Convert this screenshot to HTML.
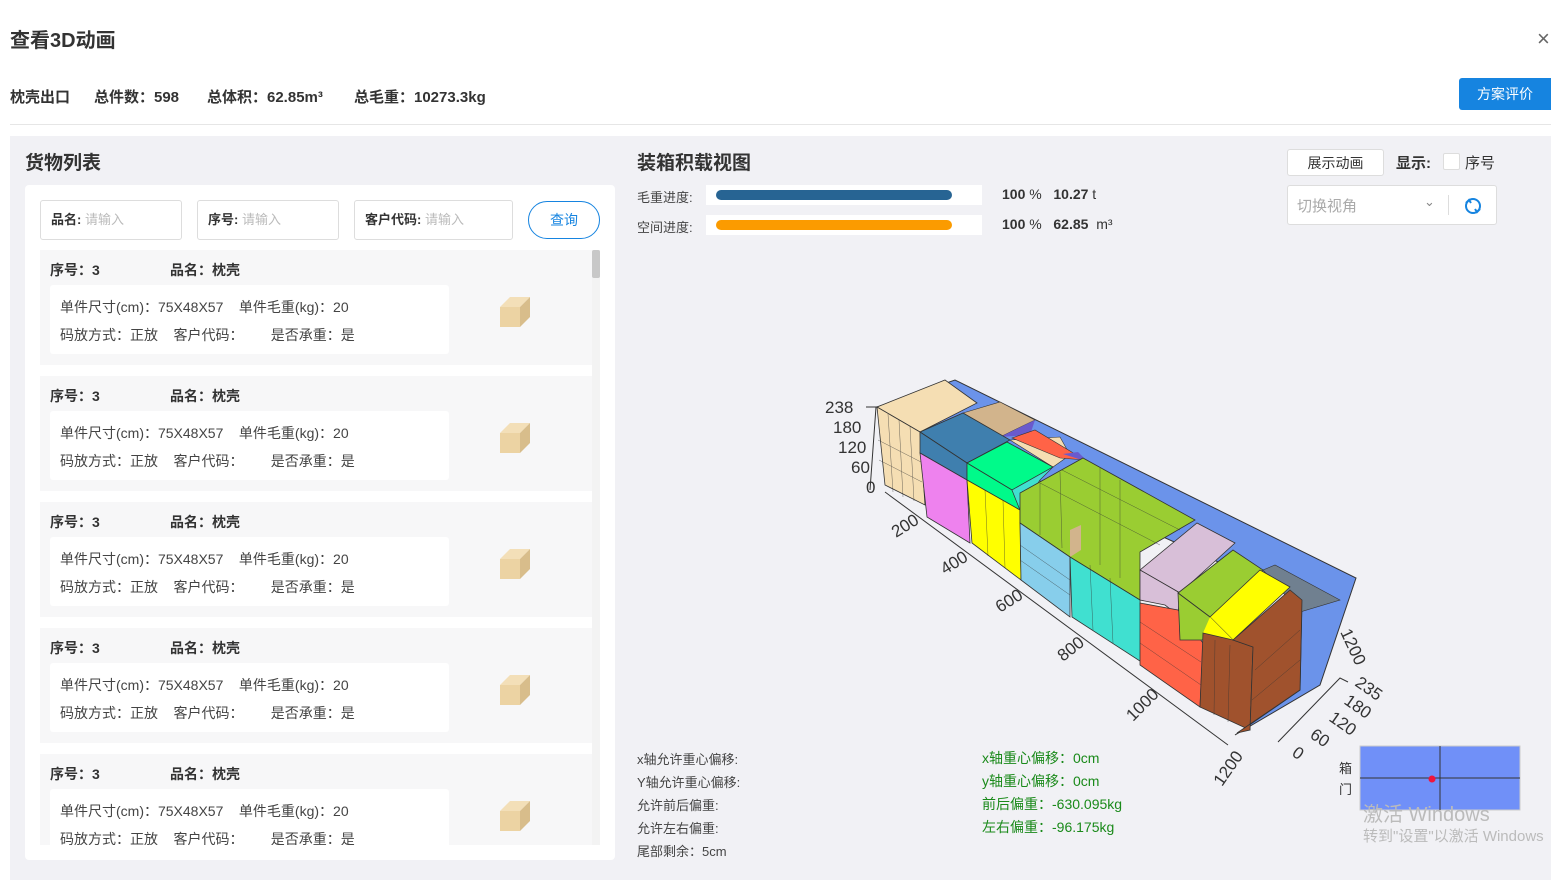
<!DOCTYPE html>
<html><head><meta charset="utf-8"><style>
*{box-sizing:border-box;margin:0;padding:0}
body{width:1551px;height:880px;background:#fff;font-family:"Liberation Sans","Noto Sans CJK SC",sans-serif;color:#333;position:relative;overflow:hidden}
.a{position:absolute;white-space:nowrap}
.item{position:absolute;left:40px;width:552px;height:115px;background:#f7f7f8}
.item .h{position:absolute;top:10px;font-size:14px;font-weight:bold;color:#333}
.inner{position:absolute;left:10px;top:35px;width:399px;height:69px;background:#fff;border-radius:3px;font-size:14px;color:#444}
.inner span{position:absolute}
.lbl{font-size:13px;color:#444}
.g{color:#1a8a1a;font-size:14px}
.hd{position:absolute;top:86px;font-size:15px;font-weight:bold;color:#333;white-space:nowrap}
</style></head><body>
<div class="a" style="left:10px;top:24px;font-size:20px;font-weight:bold;color:#333">查看3D动画</div>
<div class="a" style="left:1537px;top:26px;font-size:22px;color:#666">×</div>
<div class="hd" style="left:10px">枕壳出口</div>
<div class="hd" style="left:94px">总件数：598</div>
<div class="hd" style="left:207px">总体积：62.85m³</div>
<div class="hd" style="left:354px">总毛重：10273.3kg</div>
<div class="a" style="left:1459px;top:78px;width:92px;height:32px;background:#1684e0;color:#fff;font-size:14px;line-height:32px;text-align:center;border-radius:3px 0 0 3px">方案评价</div>
<div class="a" style="left:10px;top:124px;width:1541px;height:1px;background:#e6e6e6"></div>
<div class="a" style="left:10px;top:136px;width:1541px;height:744px;background:#f1f1f5"></div>
<div class="a" style="left:25px;top:148px;font-size:19px;font-weight:bold;color:#333">货物列表</div>
<div class="a" style="left:25px;top:185px;width:590px;height:675px;background:#fff;border-radius:4px;overflow:hidden">
</div>
<div class="a" style="left:40px;top:200px;width:142px;height:40px;border:1px solid #ddd;border-radius:3px;font-size:13px;line-height:38px;padding-left:10px"><b>品名:</b> <span style="color:#bbb">请输入</span></div>
<div class="a" style="left:197px;top:200px;width:142px;height:40px;border:1px solid #ddd;border-radius:3px;font-size:13px;line-height:38px;padding-left:10px"><b>序号:</b> <span style="color:#bbb">请输入</span></div>
<div class="a" style="left:354px;top:200px;width:159px;height:40px;border:1px solid #ddd;border-radius:3px;font-size:13px;line-height:38px;padding-left:10px"><b>客户代码:</b> <span style="color:#bbb">请输入</span></div>
<div class="a" style="left:528px;top:201px;width:72px;height:38px;border:1px solid #1684e0;border-radius:19px;color:#1684e0;font-size:14px;line-height:36px;text-align:center">查询</div>
<div class="a" style="left:25px;top:248px;width:575px;height:597px;overflow:hidden">
<div class="item" style="left:15px;top:2px"><span class="h" style="left:10px">序号：3</span><span class="h" style="left:130px">品名：枕壳</span><div class="inner"><span style="left:10px;top:12px">单件尺寸(cm)：75X48X57&nbsp;&nbsp;&nbsp;&nbsp;单件毛重(kg)：20</span><span style="left:10px;top:40px">码放方式：正放&nbsp;&nbsp;&nbsp;&nbsp;客户代码：&nbsp;&nbsp;&nbsp;&nbsp;&nbsp;&nbsp;&nbsp;是否承重：是</span></div><svg class="a" style="left:460px;top:45px" width="30" height="32"><polygon points="0,12 20,12 20,32 0,32" fill="#ecd3a3"/><polygon points="0,12 10,2 30,2 20,12" fill="#f3dfb8"/><polygon points="20,12 30,2 30,22 20,32" fill="#d8bd8b"/></svg></div>
<div class="item" style="left:15px;top:128px"><span class="h" style="left:10px">序号：3</span><span class="h" style="left:130px">品名：枕壳</span><div class="inner"><span style="left:10px;top:12px">单件尺寸(cm)：75X48X57&nbsp;&nbsp;&nbsp;&nbsp;单件毛重(kg)：20</span><span style="left:10px;top:40px">码放方式：正放&nbsp;&nbsp;&nbsp;&nbsp;客户代码：&nbsp;&nbsp;&nbsp;&nbsp;&nbsp;&nbsp;&nbsp;是否承重：是</span></div><svg class="a" style="left:460px;top:45px" width="30" height="32"><polygon points="0,12 20,12 20,32 0,32" fill="#ecd3a3"/><polygon points="0,12 10,2 30,2 20,12" fill="#f3dfb8"/><polygon points="20,12 30,2 30,22 20,32" fill="#d8bd8b"/></svg></div>
<div class="item" style="left:15px;top:254px"><span class="h" style="left:10px">序号：3</span><span class="h" style="left:130px">品名：枕壳</span><div class="inner"><span style="left:10px;top:12px">单件尺寸(cm)：75X48X57&nbsp;&nbsp;&nbsp;&nbsp;单件毛重(kg)：20</span><span style="left:10px;top:40px">码放方式：正放&nbsp;&nbsp;&nbsp;&nbsp;客户代码：&nbsp;&nbsp;&nbsp;&nbsp;&nbsp;&nbsp;&nbsp;是否承重：是</span></div><svg class="a" style="left:460px;top:45px" width="30" height="32"><polygon points="0,12 20,12 20,32 0,32" fill="#ecd3a3"/><polygon points="0,12 10,2 30,2 20,12" fill="#f3dfb8"/><polygon points="20,12 30,2 30,22 20,32" fill="#d8bd8b"/></svg></div>
<div class="item" style="left:15px;top:380px"><span class="h" style="left:10px">序号：3</span><span class="h" style="left:130px">品名：枕壳</span><div class="inner"><span style="left:10px;top:12px">单件尺寸(cm)：75X48X57&nbsp;&nbsp;&nbsp;&nbsp;单件毛重(kg)：20</span><span style="left:10px;top:40px">码放方式：正放&nbsp;&nbsp;&nbsp;&nbsp;客户代码：&nbsp;&nbsp;&nbsp;&nbsp;&nbsp;&nbsp;&nbsp;是否承重：是</span></div><svg class="a" style="left:460px;top:45px" width="30" height="32"><polygon points="0,12 20,12 20,32 0,32" fill="#ecd3a3"/><polygon points="0,12 10,2 30,2 20,12" fill="#f3dfb8"/><polygon points="20,12 30,2 30,22 20,32" fill="#d8bd8b"/></svg></div>
<div class="item" style="left:15px;top:506px"><span class="h" style="left:10px">序号：3</span><span class="h" style="left:130px">品名：枕壳</span><div class="inner"><span style="left:10px;top:12px">单件尺寸(cm)：75X48X57&nbsp;&nbsp;&nbsp;&nbsp;单件毛重(kg)：20</span><span style="left:10px;top:40px">码放方式：正放&nbsp;&nbsp;&nbsp;&nbsp;客户代码：&nbsp;&nbsp;&nbsp;&nbsp;&nbsp;&nbsp;&nbsp;是否承重：是</span></div><svg class="a" style="left:460px;top:45px" width="30" height="32"><polygon points="0,12 20,12 20,32 0,32" fill="#ecd3a3"/><polygon points="0,12 10,2 30,2 20,12" fill="#f3dfb8"/><polygon points="20,12 30,2 30,22 20,32" fill="#d8bd8b"/></svg></div>
<div class="a" style="left:567px;top:2px;width:8px;height:595px;background:#f3f3f3"></div>
<div class="a" style="left:567px;top:2px;width:8px;height:28px;background:#c8c8c8;border-radius:2px"></div>
</div>

<div class="a" style="left:637px;top:148px;font-size:19px;font-weight:bold;color:#333">装箱积载视图</div>
<div class="a lbl" style="left:637px;top:187px">毛重进度:</div>
<div class="a" style="left:706px;top:185px;width:276px;height:20px;background:#fff"></div>
<div class="a" style="left:716px;top:190px;width:236px;height:10px;background:#276493;border-radius:5px"></div>
<div class="a lbl" style="left:637px;top:217px">空间进度:</div>
<div class="a" style="left:706px;top:215px;width:276px;height:20px;background:#fff"></div>
<div class="a" style="left:716px;top:220px;width:236px;height:10px;background:#fb9b00;border-radius:5px"></div>
<div class="a" style="left:1002px;top:186px;font-size:14px"><b>100</b> %&nbsp;&nbsp;&nbsp;<b>10.27</b> t</div>
<div class="a" style="left:1002px;top:216px;font-size:14px"><b>100</b> %&nbsp;&nbsp;&nbsp;<b>62.85</b>&nbsp; m³</div>
<div class="a" style="left:1287px;top:149px;width:97px;height:27px;background:#fff;border:1px solid #ddd;border-radius:3px;font-size:14px;line-height:26px;text-align:center">展示动画</div>
<div class="a" style="left:1396px;top:152px;font-size:15px;font-weight:bold">显示:</div>
<div class="a" style="left:1443px;top:153px;width:17px;height:17px;background:#fff;border:1px solid #ddd;border-radius:2px"></div>
<div class="a" style="left:1465px;top:152px;font-size:15px">序号</div>
<div class="a" style="left:1287px;top:185px;width:210px;height:40px;background:#fff;border:1px solid #ddd;border-radius:3px"></div>
<div class="a" style="left:1297px;top:195px;font-size:15px;color:#aaa">切换视角</div>
<div class="a" style="left:1424px;top:194px;font-size:13px;color:#888">⌄</div>
<div class="a" style="left:1448px;top:195px;width:1px;height:20px;background:#ddd"></div>
<svg class="a" style="left:1462px;top:195px" width="22" height="22"><circle cx="11" cy="11" r="7" fill="none" stroke="#1684e0" stroke-width="2"/><path d="M4 8 l3 -3 l2 3 M18 14 l-3 3 l-2 -3" stroke="#1684e0" stroke-width="2" fill="none"/></svg>

<svg class="a" style="left:0;top:0" width="1551" height="880">
<g font-family="Liberation Sans,sans-serif" font-size="17" fill="#333">
<polygon points="877,407 955,380 1356,578 1320,685 1235,735 1300,690 1302,600" fill="#6b93ea" stroke="#333" stroke-width="1"/>
<polygon points="963,413 1000,402 1035,420 1000,437" fill="#d2b48c" stroke="#333" stroke-width=".6"/>
<polygon points="1000,437 1035,420 1030,435" fill="#6a5acd"/>
<polygon points="1010,440 1060,437 1070,455 1053,467" fill="#f5deb3" stroke="#333" stroke-width=".6"/>
<polygon points="1012,438 1035,430 1085,460 1060,458" fill="#ff6347" stroke="#333" stroke-width=".6"/>
<polygon points="1063,454 1078,452 1088,462" fill="#6a5acd"/>
<polygon points="877,407 945,380 977,403 920,432" fill="#f5deb3" stroke="#333" stroke-width=".8"/>
<polygon points="877,407 920,432 925,505 885,485" fill="#f5deb3" stroke="#333" stroke-width=".8"/>
<polygon points="920,432 963,413 1010,440 967,463" fill="#3f7fae" stroke="#333" stroke-width=".8"/>
<polygon points="920,432 967,463 967,480 920,453" fill="#3f7fae" stroke="#333" stroke-width=".8"/>
<polygon points="920,453 967,480 970,543 927,517" fill="#ee82ee" stroke="#333" stroke-width=".8"/>
<polygon points="967,463 1007,442 1053,467 1012,490" fill="#00fa8a" stroke="#333" stroke-width=".8"/>
<polygon points="967,463 1012,490 1020,510 967,480" fill="#00fa8a" stroke="#333" stroke-width=".8"/>
<polygon points="1012,490 1053,467 1040,480 1020,510" fill="#40e0d0" stroke="#333" stroke-width=".6"/>
<polygon points="967,480 1020,510 1021,580 972,543" fill="#ffff00" stroke="#333" stroke-width=".8"/>
<polygon points="1020,493 1083,458 1195,520 1140,552 1140,600 1070,557 1020,523" fill="#9acd32" stroke="#333" stroke-width=".8"/>
<polygon points="1070,530 1081,525 1081,550 1070,557" fill="#d2b48c"/>
<polygon points="1020,523 1070,557 1070,617 1021,580" fill="#87ceeb" stroke="#333" stroke-width=".8"/>
<polygon points="1070,557 1140,600 1143,663 1072,617" fill="#40e0d0" stroke="#333" stroke-width=".8"/>
<polygon points="1140,570 1197,523 1235,543 1180,593" fill="#d8bfd8" stroke="#333" stroke-width=".8"/>
<polygon points="1140,570 1180,593 1178,615 1165,605 1140,600" fill="#d8bfd8" stroke="#333" stroke-width=".8"/>
<polygon points="1140,603 1178,610 1203,643 1200,707 1140,665" fill="#ff6347" stroke="#333" stroke-width=".8"/>
<polygon points="1178,593 1233,550 1263,570 1210,617" fill="#9acd32" stroke="#333" stroke-width=".8"/>
<polygon points="1178,593 1210,617 1213,640 1180,640" fill="#9acd32" stroke="#333" stroke-width=".8"/>
<polygon points="1263,570 1275,565 1340,600 1300,612" fill="#708090" stroke="#333" stroke-width=".6"/>
<polygon points="1210,617 1260,570 1290,587 1233,640" fill="#ffff00" stroke="#333" stroke-width=".8"/>
<polygon points="1210,617 1233,640 1233,643 1203,633" fill="#ffff00"/>
<polygon points="1203,633 1233,640 1253,647 1250,730 1200,707" fill="#a0522d" stroke="#333" stroke-width=".8"/>
<polygon points="1233,640 1290,590 1302,600 1300,690 1237,733 1250,730 1253,647" fill="#a0522d" stroke="#333" stroke-width=".8"/>
<g stroke="#333" stroke-width=".5" opacity=".7">
<line x1="888" y1="414" x2="893" y2="492"/><line x1="899" y1="420" x2="903" y2="497"/><line x1="910" y1="426" x2="914" y2="501"/>
<line x1="878" y1="440" x2="921" y2="462"/><line x1="879" y1="460" x2="922" y2="482"/>
<line x1="1140" y1="622" x2="1201" y2="662"/><line x1="1140" y1="643" x2="1201" y2="685"/>
<line x1="1090" y1="565" x2="1093" y2="630"/><line x1="1110" y1="578" x2="1113" y2="643"/>
<line x1="1020" y1="545" x2="1070" y2="580"/><line x1="1020" y1="560" x2="1070" y2="595"/>
<line x1="985" y1="490" x2="988" y2="556"/><line x1="1003" y1="500" x2="1005" y2="568"/>
<line x1="1215" y1="640" x2="1214" y2="715"/><line x1="1230" y1="645" x2="1228" y2="722"/>
<line x1="1255" y1="670" x2="1300" y2="630"/><line x1="1252" y1="700" x2="1300" y2="660"/>
<line x1="1040" y1="483" x2="1040" y2="535"/><line x1="1060" y1="472" x2="1062" y2="548"/>
<line x1="1100" y1="468" x2="1100" y2="565"/><line x1="1120" y1="480" x2="1120" y2="578"/>
<line x1="1040" y1="483" x2="1160" y2="545"/><line x1="1062" y1="470" x2="1180" y2="530"/>
</g>
<polyline points="866,407 876,407 870,490" fill="none" stroke="#333" stroke-width="1"/>
<line x1="885" y1="492" x2="1228" y2="745" stroke="#333"/>
<polyline points="1278,742 1340,678 1348,682" fill="none" stroke="#333"/>
<text x="825" y="413">238</text><text x="833" y="433">180</text><text x="838" y="453">120</text><text x="851" y="473">60</text><text x="866" y="493">0</text>
<text transform="translate(896,538) rotate(-32)">200</text>
<text transform="translate(945,575) rotate(-32)">400</text>
<text transform="translate(1000,613) rotate(-32)">600</text>
<text transform="translate(1063,662) rotate(-38)">800</text>
<text transform="translate(1133,722) rotate(-45)">1000</text>
<text transform="translate(1222,787) rotate(-55)">1200</text>
<text transform="translate(1340,632) rotate(65)">1200</text>
<text transform="translate(1354,685) rotate(35)">235</text>
<text transform="translate(1343,703) rotate(35)">180</text>
<text transform="translate(1328,720) rotate(35)">120</text>
<text transform="translate(1309,737) rotate(35)">60</text>
<text transform="translate(1291,755) rotate(35)">0</text>
</g>
<rect x="1360" y="746" width="160" height="64" fill="#7090f8" stroke="#ccc"/>
<line x1="1360" y1="778" x2="1520" y2="778" stroke="#333"/>
<line x1="1440" y1="746" x2="1440" y2="810" stroke="#333"/>
<circle cx="1432" cy="779" r="3.5" fill="#f0143c"/>
</svg>
<div class="a" style="left:1339px;top:758px;font-size:13px">箱</div>
<div class="a" style="left:1339px;top:779px;font-size:13px">门</div>
<div class="a" style="left:1363px;top:798px;font-size:20px;color:#bbb">激活 Windows</div>
<div class="a" style="left:1363px;top:825px;font-size:15px;color:#bbb">转到"设置"以激活 Windows</div>

<div class="a lbl" style="left:637px;top:749px">x轴允许重心偏移:</div>
<div class="a lbl" style="left:637px;top:772px">Y轴允许重心偏移:</div>
<div class="a lbl" style="left:637px;top:795px">允许前后偏重:</div>
<div class="a lbl" style="left:637px;top:818px">允许左右偏重:</div>
<div class="a lbl" style="left:637px;top:841px">尾部剩余：5cm</div>
<div class="a g" style="left:982px;top:748px">x轴重心偏移：0cm</div>
<div class="a g" style="left:982px;top:771px">y轴重心偏移：0cm</div>
<div class="a g" style="left:982px;top:794px">前后偏重：-630.095kg</div>
<div class="a g" style="left:982px;top:817px">左右偏重：-96.175kg</div>
</body></html>
